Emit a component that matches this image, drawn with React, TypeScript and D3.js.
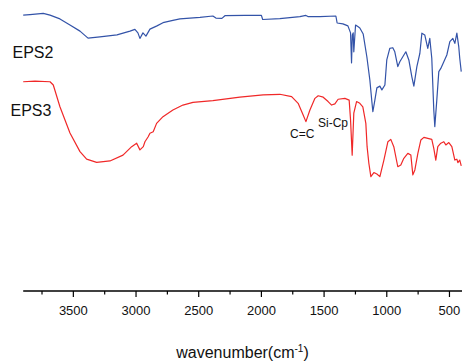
import React from "react";
import * as d3 from "d3";

// wavenumber (cm-1) and relative transmittance
const eps2Wavenumber = [3900, 3846, 3740, 3686, 3607, 3527, 3447, 3383, 3288, 3152, 3048, 3009, 2985, 2969, 2945, 2921, 2889, 2833, 2785, 2706, 2650, 2490, 2387, 2363, 2315, 2291, 2132, 2000, 1990, 1853, 1693, 1645, 1629, 1534, 1406, 1396, 1350, 1310, 1289, 1281, 1275, 1268, 1263, 1249, 1228, 1215, 1188, 1159, 1135, 1119, 1111, 1095, 1079, 1055, 1039, 1015, 1000, 976, 952, 936, 912, 896, 872, 848, 824, 800, 784, 760, 736, 720, 697, 673, 657, 641, 625, 617, 601, 585, 569, 545, 521, 497, 473, 457, 441, 426, 418, 406];
const eps2Values = [94.8, 95.0, 95.4, 94.8, 93.5, 91.4, 89.3, 86.9, 87.3, 88.0, 89.3, 89.9, 88.7, 86.8, 88.7, 87.6, 90.0, 91.1, 92.2, 93.0, 93.5, 94.0, 94.5, 93.8, 93.7, 94.6, 94.7, 94.7, 93.3, 93.6, 94.3, 94.7, 94.3, 94.3, 94.5, 92.1, 91.8, 91.1, 88.7, 78.4, 88.0, 88.7, 82.2, 91.4, 90.8, 90.4, 88.3, 80.5, 72.5, 65.1, 61.6, 65.6, 69.8, 70.4, 69.1, 70.8, 79.4, 83.4, 83.6, 82.2, 77.1, 78.8, 80.5, 82.2, 79.4, 73.6, 70.4, 77.1, 81.7, 88.6, 88.0, 83.4, 86.8, 80.0, 62.2, 56.5, 65.6, 75.4, 76.5, 78.8, 81.1, 85.7, 86.8, 85.1, 88.6, 84.0, 80.0, 75.4];

const eps3Wavenumber = [3900, 3806, 3686, 3660, 3607, 3527, 3447, 3394, 3314, 3208, 3104, 3035, 2995, 2969, 2942, 2929, 2903, 2889, 2863, 2836, 2785, 2706, 2626, 2546, 2387, 2172, 1986, 1853, 1759, 1707, 1667, 1645, 1613, 1573, 1547, 1507, 1468, 1440, 1414, 1388, 1334, 1300, 1289, 1276, 1263, 1241, 1215, 1191, 1167, 1157, 1143, 1127, 1103, 1079, 1055, 1023, 991, 968, 944, 912, 888, 864, 832, 808, 792, 776, 752, 728, 704, 641, 625, 609, 593, 569, 545, 529, 505, 481, 457, 441, 433, 418, 406];
const eps3Values = [71.9, 72.1, 71.9, 70.8, 63.3, 54.3, 47.9, 45.3, 44.2, 44.7, 46.7, 49.6, 50.8, 48.5, 49.6, 51.3, 53.0, 54.2, 54.7, 57.6, 59.9, 62.2, 63.9, 64.8, 65.4, 66.6, 67.4, 67.6, 66.8, 64.5, 60.5, 58.2, 62.2, 66.2, 67.1, 66.6, 65.1, 63.9, 64.3, 65.9, 66.2, 65.6, 58.8, 46.7, 61.1, 65.1, 64.5, 63.3, 57.6, 49.6, 43.9, 39.3, 40.7, 40.2, 39.3, 45.0, 51.3, 52.1, 49.6, 42.7, 43.3, 45.6, 47.3, 46.7, 39.9, 41.6, 47.3, 51.9, 52.8, 52.1, 49.0, 45.0, 49.6, 50.8, 51.3, 50.2, 51.0, 49.6, 45.0, 45.3, 44.1, 45.0, 43.0];

const xTicks = [3500, 3000, 2500, 2000, 1500, 1000, 500];
const xMinorTicks = [3750, 3250, 2750, 2250, 1750, 1250, 750];

const W = 463;
const H = 363;
const axisY = 291;
const FONT = "Arial, 'Liberation Sans', sans-serif";

export default function App() {
  const x = d3.scaleLinear().domain([3900, 400]).range([23.2, 462]);
  const y = d3.scaleLinear().domain([0, 100]).range([axisY, 0]);

  const line = d3
    .line<[number, number]>()
    .x((d) => x(d[0]))
    .y((d) => y(d[1]));

  const eps2 = eps2Wavenumber.map((w, i) => [w, eps2Values[i]] as [number, number]);
  const eps3 = eps3Wavenumber.map((w, i) => [w, eps3Values[i]] as [number, number]);

  return (
    <svg
      width={W}
      height={H}
      style={{ position: "absolute", left: 0, top: 0, background: "#fff" }}
      fontFamily={FONT}
    >
      <rect x={0} y={0} width={W} height={H} fill="#fff" />
      <path d={line(eps2) || ""} fill="none" stroke="#3353a8" strokeWidth={1.2} strokeLinejoin="round" />
      <path d={line(eps3) || ""} fill="none" stroke="#f02828" strokeWidth={1.2} strokeLinejoin="round" />

      <text x={12.5} y={58} fontSize={16} fill="#111">EPS2</text>
      <text x={10.5} y={116} fontSize={16} fill="#111">EPS3</text>
      <text x={290} y={137.5} fontSize={12} fill="#111">C=C</text>
      <text x={318} y={127} fontSize={12} fill="#111">Si-Cp</text>

      <line x1={23.2} x2={462} y1={axisY} y2={axisY} stroke="#000" strokeWidth={1.5} />
      {xTicks.map((t) => (
        <g key={t}>
          <line x1={x(t)} x2={x(t)} y1={axisY} y2={axisY + 6} stroke="#000" strokeWidth={1.2} />
          <text x={x(t)} y={315} fontSize={13} textAnchor="middle" fill="#111">
            {t}
          </text>
        </g>
      ))}
      {xMinorTicks.map((t) => (
        <line key={t} x1={x(t)} x2={x(t)} y1={axisY} y2={axisY + 3.5} stroke="#000" strokeWidth={1.2} />
      ))}

      <text x={242.5} y={358} fontSize={16} textAnchor="middle" fill="#111">
        wavenumber(cm
        <tspan fontSize={10} dy={-6}>-1</tspan>
        <tspan dy={6}>)</tspan>
      </text>
    </svg>
  );
}
